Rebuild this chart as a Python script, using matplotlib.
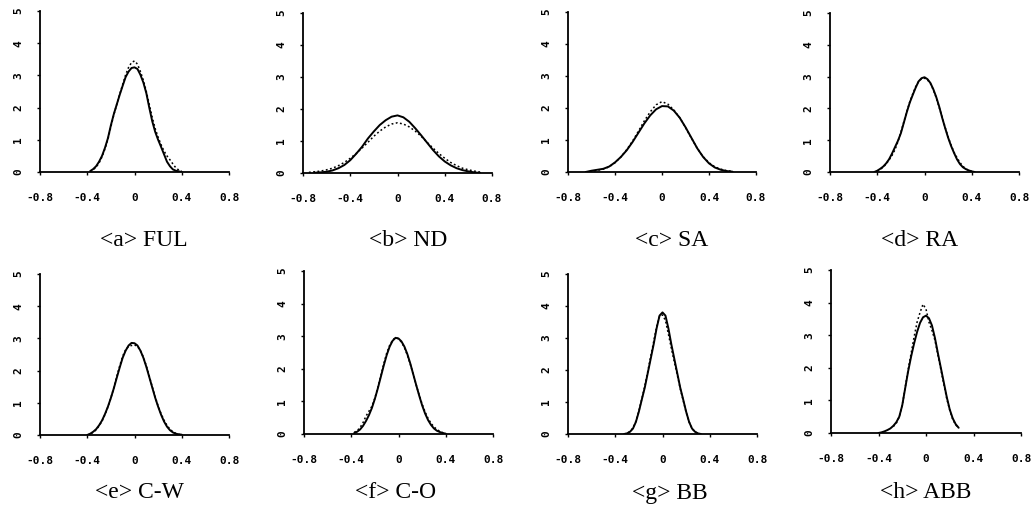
import matplotlib
matplotlib.use("Agg")
import matplotlib.pyplot as plt
import numpy as np

N = np.nan

# ---- data ----
panel_labels = ["<a> FUL", "<b> ND", "<c> SA", "<d> RA",
                "<e> C-W", "<f> C-O", "<g> BB", "<h> ABB"]
x_ticks = [-0.8, -0.4, 0, 0.4, 0.8]
x_tick_labels = ["-0.8", "-0.4", "0", "0.4", "0.8"]
y_ticks = [0, 1, 2, 3, 4, 5]
y_tick_labels = ["0", "1", "2", "3", "4", "5"]

# fine grid (step 0.025)
x_fine = [-0.425, -0.4, -0.375, -0.35, -0.325, -0.3, -0.275, -0.25, -0.225,
          -0.2, -0.175, -0.15, -0.125, -0.1, -0.075, -0.05, -0.025, 0.0,
          0.025, 0.05, 0.075, 0.1, 0.125, 0.15, 0.175, 0.2, 0.225, 0.25,
          0.275, 0.3, 0.325, 0.35, 0.375, 0.4, 0.425]
# wide grid (step 0.05)
x_wide = [-0.75, -0.7, -0.65, -0.6, -0.55, -0.5, -0.45, -0.4, -0.35, -0.3,
          -0.25, -0.2, -0.15, -0.1, -0.05, 0.0, 0.05, 0.1, 0.15, 0.2, 0.25,
          0.3, 0.35, 0.4, 0.45, 0.5, 0.55, 0.6, 0.65, 0.7, 0.75]

ful_solid = [N, N, 0.03, 0.09, 0.18, 0.32, 0.50, 0.75, 1.05, 1.45, 1.80, 2.10,
             2.40, 2.68, 2.95, 3.12, 3.23, 3.25, 3.20, 3.02, 2.78, 2.45, 2.00,
             1.58, 1.25, 1.00, 0.78, 0.55, 0.32, 0.18, 0.08, 0.04, 0.02, 0.00, N]
ful_dotted = [N, N, 0.02, 0.07, 0.15, 0.28, 0.47, 0.72, 1.02, 1.40, 1.78, 2.10,
              2.42, 2.72, 3.02, 3.25, 3.40, 3.45, 3.35, 3.12, 2.85, 2.50, 2.10,
              1.70, 1.35, 1.08, 0.85, 0.65, 0.50, 0.38, 0.25, 0.13, 0.06, 0.02, N]

nd_solid = [N, 0.01, 0.02, 0.04, 0.08, 0.15, 0.25, 0.40, 0.60, 0.82, 1.08,
            1.30, 1.50, 1.65, 1.76, 1.80, 1.74, 1.60, 1.40, 1.18, 0.95, 0.72,
            0.52, 0.36, 0.24, 0.15, 0.09, 0.05, 0.02, 0.00, N]
nd_dotted = [0.02, 0.04, 0.06, 0.10, 0.15, 0.23, 0.33, 0.46, 0.61, 0.78, 0.96,
             1.15, 1.31, 1.44, 1.53, 1.57, 1.53, 1.44, 1.31, 1.15, 0.96, 0.78,
             0.61, 0.46, 0.33, 0.23, 0.15, 0.10, 0.06, 0.03, N]

sa_solid = [N, N, 0.00, 0.04, 0.07, 0.10, 0.17, 0.30, 0.47, 0.68, 0.94, 1.23,
            1.52, 1.77, 1.96, 2.06, 2.05, 1.92, 1.70, 1.40, 1.07, 0.74, 0.47,
            0.27, 0.14, 0.07, 0.03, 0.01, N, N, N]
sa_dotted = [N, N, 0.00, 0.02, 0.05, 0.09, 0.16, 0.29, 0.47, 0.70, 0.97, 1.28,
             1.60, 1.88, 2.10, 2.20, 2.12, 1.94, 1.70, 1.39, 1.06, 0.74, 0.48,
             0.29, 0.16, 0.09, 0.04, 0.02, N, N, N]

ra_solid = [0.00, 0.04, 0.10, 0.17, 0.27, 0.40, 0.58, 0.78, 0.98, 1.22, 1.55,
            1.88, 2.18, 2.42, 2.65, 2.85, 2.95, 2.98, 2.92, 2.80, 2.60, 2.35,
            2.05, 1.70, 1.38, 1.08, 0.82, 0.60, 0.40, 0.25, 0.15, 0.09, 0.05,
            0.02, 0.00]
ra_dotted = [N, 0.03, 0.08, 0.15, 0.25, 0.38, 0.52, 0.70, 0.95, 1.25, 1.58,
             1.90, 2.20, 2.45, 2.68, 2.85, 2.93, 2.95, 2.90, 2.78, 2.58, 2.33,
             2.02, 1.72, 1.40, 1.10, 0.85, 0.62, 0.45, 0.30, 0.18, 0.10, 0.05,
             0.02, N]

cw_solid = [N, 0.00, 0.04, 0.10, 0.18, 0.30, 0.45, 0.65, 0.88, 1.15, 1.45,
            1.78, 2.10, 2.40, 2.62, 2.78, 2.86, 2.85, 2.78, 2.62, 2.40, 2.12,
            1.80, 1.48, 1.16, 0.88, 0.63, 0.42, 0.26, 0.15, 0.08, 0.04, 0.02,
            0.01, N]
cw_dotted = [N, 0.00, 0.03, 0.08, 0.16, 0.28, 0.43, 0.63, 0.87, 1.15, 1.47,
             1.82, 2.15, 2.45, 2.65, 2.75, 2.78, 2.80, 2.75, 2.62, 2.42, 2.15,
             1.83, 1.50, 1.18, 0.90, 0.66, 0.46, 0.30, 0.18, 0.10, 0.05, 0.02,
             0.01, N]

co_solid = [N, N, 0.03, 0.07, 0.14, 0.25, 0.40, 0.58, 0.80, 1.08, 1.40, 1.75,
            2.10, 2.42, 2.68, 2.86, 2.95, 2.93, 2.84, 2.68, 2.45, 2.16, 1.83,
            1.50, 1.18, 0.88, 0.63, 0.43, 0.28, 0.17, 0.10, 0.06, 0.03, 0.01, N]
co_dotted = [N, N, 0.05, 0.10, 0.20, 0.35, 0.55, 0.70, 0.85, 1.10, 1.42, 1.78,
             2.15, 2.48, 2.72, 2.88, 2.96, 2.92, 2.82, 2.65, 2.42, 2.14, 1.82,
             1.50, 1.20, 0.92, 0.68, 0.48, 0.33, 0.22, 0.14, 0.08, 0.04, 0.02, N]

bb_solid = [N, N, N, N, 0.00, 0.02, 0.07, 0.17, 0.38, 0.70, 1.08, 1.45, 1.90,
            2.35, 2.80, 3.30, 3.70, 3.80, 3.70, 3.30, 2.80, 2.35, 1.90, 1.45,
            1.08, 0.70, 0.38, 0.17, 0.07, 0.02, 0.00, N, N, N, N]
bb_dotted = [N, N, N, N, 0.00, 0.02, 0.08, 0.19, 0.40, 0.72, 1.10, 1.50, 1.95,
             2.42, 2.88, 3.35, 3.68, 3.72, 3.55, 3.12, 2.68, 2.25, 1.85, 1.42,
             1.05, 0.68, 0.38, 0.17, 0.07, 0.02, 0.00, N, N, N, N]

abb_solid = [N, 0.00, 0.02, 0.05, 0.09, 0.14, 0.22, 0.33, 0.50, 0.85, 1.38,
             1.90, 2.35, 2.75, 3.10, 3.38, 3.55, 3.60, 3.52, 3.30, 2.92, 2.45,
             2.00, 1.55, 1.10, 0.72, 0.45, 0.27, 0.16, N, N, N, N, N, N]
abb_dotted = [N, N, N, N, N, N, 0.20, 0.30, 0.50, 0.85, 1.40, 1.95, 2.45,
              2.95, 3.40, 3.70, 3.95, 3.80, 3.40, 3.15, 2.85, 2.40, 1.95, 1.50,
              1.05, 0.70, 0.42, 0.25, 0.15, N, N, N, N, N, N]

series = [
    (x_fine, ful_solid, ful_dotted),
    (x_wide, nd_solid, nd_dotted),
    (x_wide, sa_solid, sa_dotted),
    (x_fine, ra_solid, ra_dotted),
    (x_fine, cw_solid, cw_dotted),
    (x_fine, co_solid, co_dotted),
    (x_fine, bb_solid, bb_dotted),
    (x_fine, abb_solid, abb_dotted),
]

# ---- layout (pixel boxes: left, right, y of zero, y of five) ----
W, H = 1036, 524
boxes = [(40, 229, 172, 11), (303, 492, 173, 13), (568, 756, 172, 12), (830, 1019, 172, 13),
         (40, 229, 435, 274), (304, 493, 434, 271), (568, 757, 434, 274), (831, 1021, 433, 270)]
caption_pos = [(144, 240), (408, 240), (672, 240), (920, 240),
               (139, 493), (396, 493), (670, 493), (926, 493)]

fig = plt.figure(figsize=(W / 100, H / 100), dpi=100)
fig.patch.set_facecolor("white")

tick_font = dict(family="DejaVu Sans Mono", size=8, weight="bold")

for i, ((xs, ys_solid, ys_dot), (l, r, y0, y5)) in enumerate(zip(series, boxes)):
    ax = fig.add_axes([l / W, 1 - y0 / H, (r - l) / W, (y0 - y5) / H])
    ax.plot(xs, ys_solid, color="black", lw=1.4, solid_capstyle="round")
    ax.plot(xs, ys_dot, color="black", lw=1.1, linestyle=(0, (1.2, 1.6)))
    ax.set_xlim(-0.8, 0.8)
    ax.set_ylim(0, 5)
    for s in ("top", "right"):
        ax.spines[s].set_visible(False)
    for s in ("left", "bottom"):
        ax.spines[s].set_linewidth(1.3)
    ax.set_xticks(x_ticks)
    ax.set_xticklabels(x_tick_labels, fontdict=tick_font)
    ax.set_yticks(y_ticks)
    ax.set_yticklabels(y_tick_labels, fontdict=tick_font)
    ax.tick_params(axis="x", length=2, width=1, pad=13)
    ax.tick_params(axis="y", length=2, width=1, pad=10, labelrotation=90)
    for lab in ax.get_yticklabels():
        lab.set_verticalalignment("center")
    ax.patch.set_alpha(0)
    cx, cy = caption_pos[i]
    fig.text(cx / W, 1 - cy / H, panel_labels[i], ha="center", va="center",
             family="Liberation Serif", fontsize=17)

fig.savefig("out.png", dpi=100, facecolor="white")
